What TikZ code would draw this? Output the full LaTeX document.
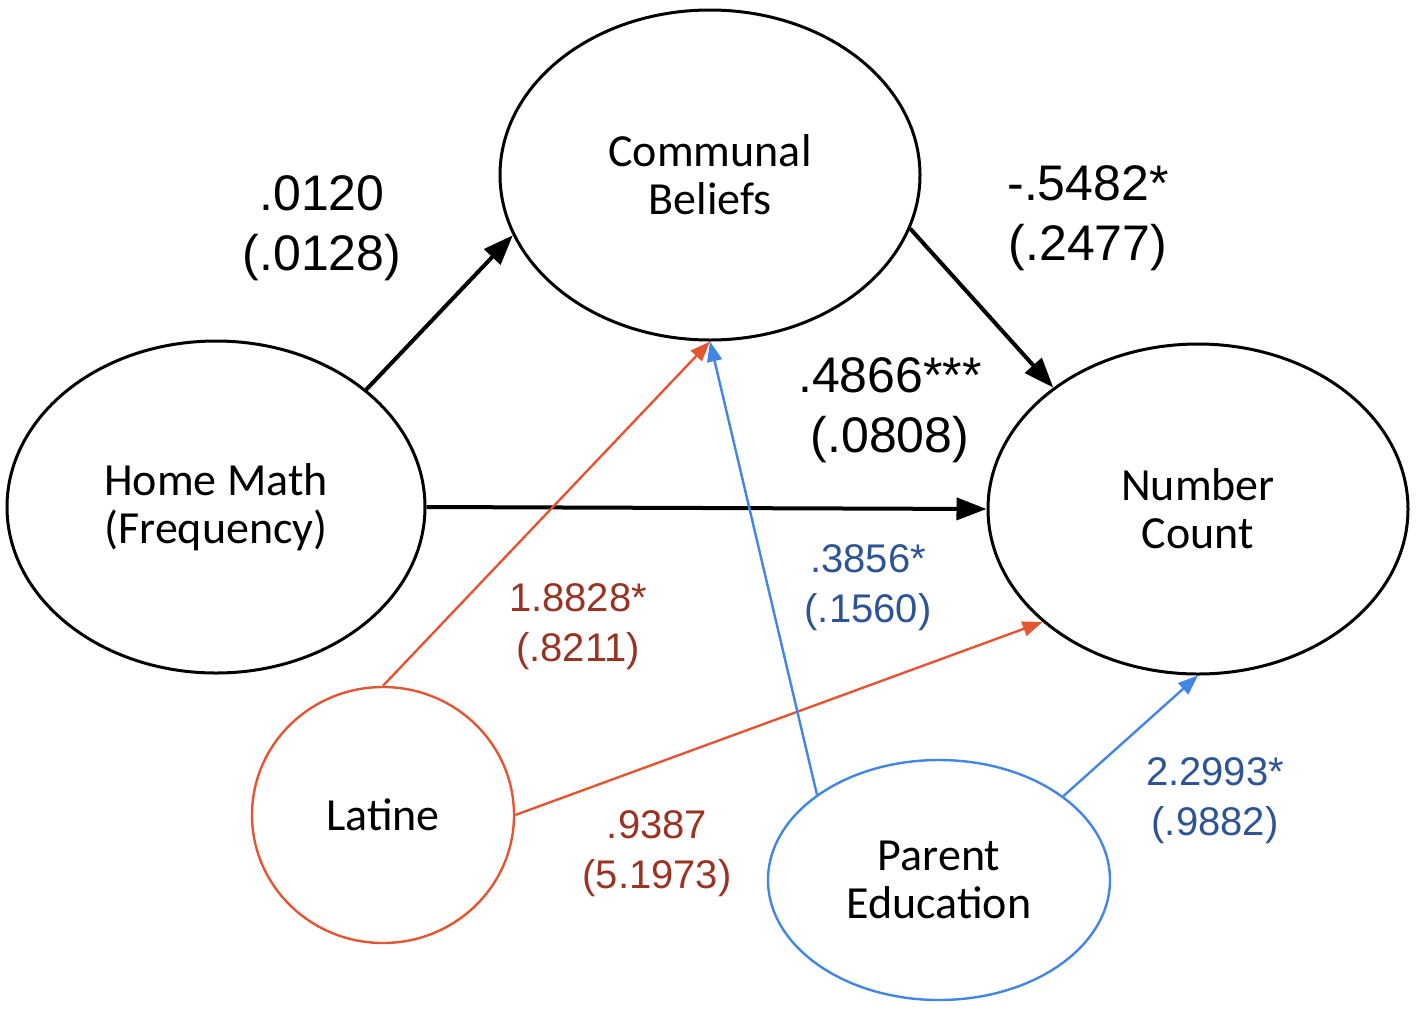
\documentclass[tikz,border=0pt]{standalone}
\usepackage{fontspec}
\setmainfont{Carlito}
\newfontfamily\labelfont{Liberation Sans}
\usetikzlibrary{shapes.geometric,arrows.meta}
\definecolor{colorlatine}    {RGB}{226,86,50}
\definecolor{colorlatinetxt} {RGB}{152,52,36}
\definecolor{colorparent}    {RGB}{66,134,228}
\definecolor{colorparenttxt} {RGB}{46,84,150}
\definecolor{colortext}      {RGB}{0,0,0}

\begin{document}
\begin{tikzpicture}[
    x=0.5pt, y=-0.5pt,
    font={\fontsize{23}{24}\selectfont},
    base/.style={ellipse,draw=colortext,line width=1.5pt,inner sep=0pt,align=center,text=colortext},
    bigtxt/.style={text=colortext,font={\labelfont\fontsize{25}{30}\selectfont},align=center},
    smalltxt/.style={font={\labelfont\fontsize{20}{25}\selectfont},align=center},
    mainarrow/.style={-{Triangle[length=15pt,width=11pt]},line width=2pt,draw=colortext},
    sidearrow/.style={-{Triangle[length=10pt,width=7.5pt]},line width=1.2pt},
]
    \useasboundingbox (0,0) rectangle (1418,1019);

    % Nodes
    \node[base,minimum width=210pt,minimum height=165pt] (communal) at (710,175) {Communal\\Beliefs};
    \node[base,minimum width=209pt,minimum height=166pt] (homemath) at (216,507) {Home Math\\(Frequency)};
    \node[base,minimum width=210pt,minimum height=165pt] (numcount) at (1198,509) {Number\\Count};
    \node[base,draw=colorlatine,line width=1.2pt,minimum width=131pt,minimum height=128pt] (latine) at (383,815) {Latine};
    \node[base,draw=colorparent,line width=1.2pt,minimum width=171pt,minimum height=120pt] (parented) at (939,880) {Parent\\Education};

    % Text
    \node[bigtxt] (homecomtxt) at (322,228) {.0120\\(.0128)};
    \node[bigtxt] (comnumtxt)  at (1088,218) {-.5482*\\(.2477)};
    \node[bigtxt] (homenumtxt) at (890,410) {.4866***\\(.0808)};
    \node[smalltxt,text=colorlatinetxt] (latcomtxt) at (578,627) {1.8828*\\(.8211)};
    \node[smalltxt,text=colorlatinetxt] (latnumtxt) at (657,854) {.9387\\(5.1973)};
    \node[smalltxt,text=colorparenttxt] (parcomtxt) at (868,588) {.3856*\\(.1560)};
    \node[smalltxt,text=colorparenttxt] (parnumtxt) at (1215,801) {2.2993*\\(.9882)};

    % Arrows
    \draw[mainarrow] (homemath.38) -- (communal.197);
    \draw[mainarrow] (communal.345) -- (numcount.140);
    \draw[mainarrow] (homemath.east) -- (numcount.west);
    \draw[sidearrow,draw=colorlatine] (latine.north) -- (communal.south);
    \draw[sidearrow,draw=colorlatine] (latine.east) -- (numcount.216);
    \draw[sidearrow,draw=colorparent] (parented.145) -- (communal.south);
    \draw[sidearrow,draw=colorparent] (parented.34) -- (numcount.south);

\end{tikzpicture}
\end{document}
